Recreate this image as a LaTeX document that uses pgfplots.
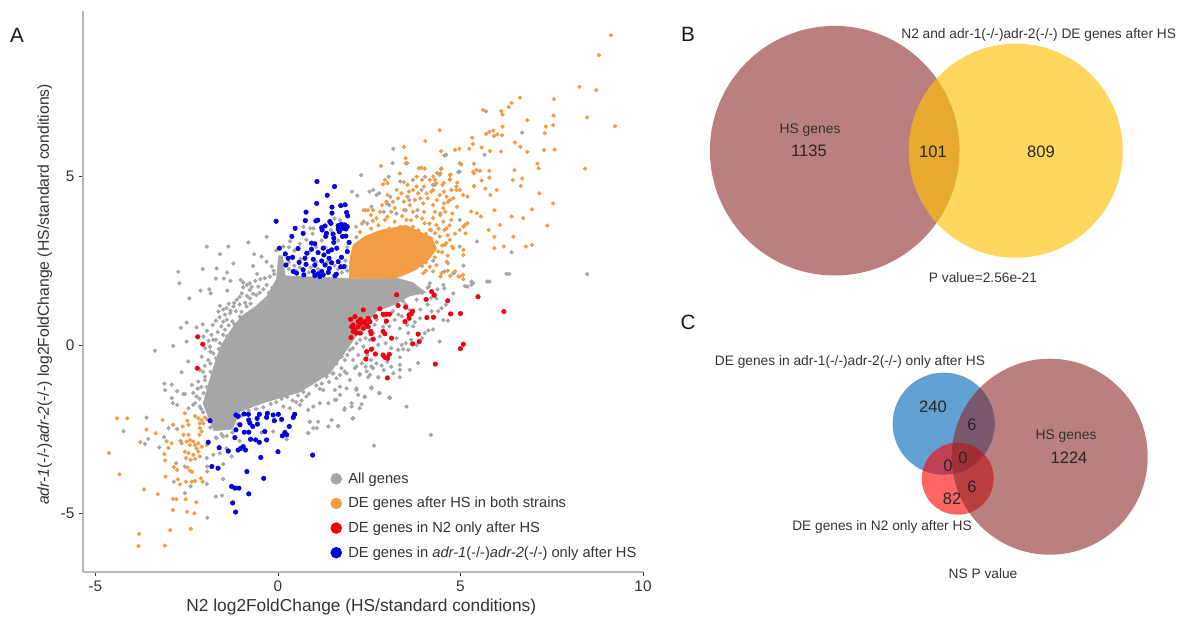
\documentclass[border=0pt]{standalone}
\usepackage{fontspec}
\usepackage{pgfplots}
\pgfplotsset{compat=1.18}
\setmainfont{Liberation Sans}
\definecolor{cgray}{HTML}{A6A6A6}
\definecolor{corange}{HTML}{F29C45}
\definecolor{cred}{HTML}{F00010}
\definecolor{cblue}{HTML}{0000E0}
\definecolor{axgray}{HTML}{B8B8B8}
\definecolor{txt}{HTML}{333333}
\definecolor{vbrown}{RGB}{139,35,35}
\definecolor{vyellow}{RGB}{255,193,7}
\definecolor{vblue}{RGB}{31,120,190}
\definecolor{vred}{RGB}{255,0,0}
\begin{document}
\begin{tikzpicture}[x=1pt,y=1pt]
\path (0,0) rectangle (885.75,463.5);
\begin{axis}[
  at={(62.25pt,34.5pt)},anchor=south west,
  width=420pt,height=420.75pt,scale only axis,
  xmin=-5.34,xmax=10,ymin=-6.74,ymax=9.91,
  axis lines=left,axis line style={-,draw=axgray,line width=0.9pt},
  xtick={-5,0,5,10},xticklabels={-5,0,5,10},
  ytick={-5,0,5},yticklabels={-5,0,5},
  tick align=outside,major tick length=3pt,
  tick style={draw=txt,line width=0.5pt},
  ticklabel style={font=\fontsize{11.5}{13}\selectfont,text=txt},
  xlabel={N2 log2FoldChange (HS/standard conditions)},
  ylabel={\textit{adr-1}(-/-)\textit{adr-2}(-/-) log2FoldChange (HS/standard conditions)},
  xlabel style={font=\fontsize{13}{15}\selectfont,text=txt,at={(axis description cs:0.497,-0.062)},anchor=center},
  ylabel style={font=\fontsize{11.8}{13}\selectfont,text=txt,at={(axis description cs:-0.068,0.495)},anchor=center},
  legend style={at={(axis cs:1.44,-3.74)},anchor=north west,draw=none,fill=none,
    font=\fontsize{11}{12}\selectfont,text=txt,row sep=7pt,inner sep=0pt,
    nodes={inner sep=1pt}},
  legend cell align=left,
  legend image post style={mark size=4.1pt},
  clip=false,
]
% dense core of the gray cloud
\addplot[fill=cgray,draw=cgray,forget plot] coordinates {(0.02,2.65)(0.12,2.65)(0.2,2.05)(1.97,1.97)(3.3,1.97)(3.7,1.85)(4.05,1.55)(3.6,1.45)(3.2,1.2)(2.7,1.0)(2.2,0.35)(1.88,-0.15)(1.42,-0.84)(0.6,-1.4)(-0.4,-1.72)(-1.04,-1.98)(-1.25,-2.5)(-1.75,-2.55)(-2.05,-1.75)(-1.9,-1.15)(-1.75,-0.6)(-1.55,0.0)(-1.25,0.5)(-1.0,0.85)(-0.6,1.15)(-0.3,1.45)(-0.04,1.95)(0.02,2.65)};
% gray
\addplot[only marks,mark=*,mark size=1.4pt,color=cgray] coordinates {
(5.70,6.93)(6.69,6.30)(4.56,5.62)(5.66,5.64)(4.94,5.13)(4.36,5.10)(4.25,4.75)
(3.16,5.82)(3.14,5.39)(3.54,5.39)(2.28,5.04)(2.03,4.55)(2.17,4.43)(2.51,4.55)(2.61,4.60)(2.77,4.50)(3.03,4.99)(3.35,4.85)(3.70,4.90)(4.03,4.99)(4.30,4.75)(4.61,5.64)(4.98,5.14)
(6.40,2.75)(6.33,2.10)(8.47,2.10)(5.79,1.88)(5.35,1.83)(5.08,2.35)(4.98,2.92)(5.45,3.07)
(2.40,4.0)(2.56,4.1)(3.08,4.40)(2.98,4.2)(3.50,4.0)(3.82,4.0)(3.93,4.6)(3.25,3.9)(2.35,3.66)(2.14,3.51)(2.45,3.6)(4.98,3.71)(4.66,2.42)(4.56,2.18)(4.82,2.13)(5.19,1.73)(4.14,1.73)(4.56,1.68)
(2.15,3.2)(2.9,3.95)(3.6,4.3)(4.45,3.9)(3.05,4.15)(2.7,4.45)(4.25,2.5)(3.95,2.35)
(-2.73,2.17)(-2.70,1.83)(-1.95,2.92)(-1.36,2.92)(-1.59,2.69)(-2.06,2.25)(-1.68,2.27)(-1.22,2.42)(-1.39,2.15)(-1.70,1.97)(-1.48,1.97)(-1.30,1.90)(-1.02,1.93)(-2.12,1.61)(-1.88,1.65)(-1.84,1.53)(-1.39,1.61)(-2.43,1.38)(-0.81,3.04)(-0.31,3.21)(-0.65,2.69)(-0.45,2.62)(-0.31,2.47)(-0.68,2.34)(-0.17,2.33)(-0.57,2.11)(-0.36,1.98)(-0.22,2.03)(-0.77,1.83)(-0.95,1.71)(-0.77,1.63)(-0.54,1.73)(-0.31,1.78)(-1.13,1.34)(-0.99,1.53)(-0.77,1.38)(-0.59,1.48)(-1.59,1.16)(-1.41,1.09)(-1.22,1.14)(-0.86,1.14)(-1.63,0.99)(-1.31,0.94)(-1.04,0.84)(-2.50,0.66)(-2.66,0.51)(-2.23,0.52)(-2.06,0.61)(-1.79,0.59)(-1.50,0.69)(-1.09,0.59)(-1.45,0.45)(-1.82,0.30)(-2.87,-0.03)(-1.86,-0.05)(-2.04,0.25)(-1.40,0.25)(-1.59,0.05)(-1.77,-0.25)
(0.97,3.46)(0.33,3.07)(0.88,3.46)(0.15,2.92)(0.78,3.12)(0.05,2.47)(0.45,2.8)(0.62,2.55)(1.65,3.1)(1.3,2.9)(1.85,2.5)(0.3,2.25)(0.5,2.2)(0.85,2.15)(1.1,2.25)(1.75,2.15)(1.9,2.2)(-0.05,2.8)
(-2.64,-0.81)(-2.46,-0.49)(-2.50,0.10)(-2.36,-1.19)(-2.55,-1.46)(-2.32,-1.43)(-2.23,-1.53)(-2.14,-1.83)(-2.27,-1.73)(-2.0,-0.94)(-2.14,-0.74)(-2.09,-0.35)(-1.91,-0.45)(-2.18,-1.09)(-1.86,-0.05)(-2.04,-1.43)(-1.77,0.15)(-3.37,-0.17)
(0.15,-1.83)(0.33,-1.88)(0.6,-1.78)(0.83,-1.93)(0.97,-1.83)(1.15,-1.73)(1.38,-1.73)(1.56,-1.63)(1.83,-1.88)(2.02,-1.83)(2.06,-2.18)(2.24,-1.88)(2.38,-1.53)(2.15,-1.34)(2.56,-1.29)(2.79,-1.43)(3.07,-1.58)(1.88,-1.29)(1.56,-1.34)(1.24,-1.34)(0.78,-1.53)(0.92,-1.14)(1.60,-0.99)(1.97,-1.04)(2.24,-0.89)(2.47,-0.96)(2.75,-0.96)(2.56,-0.64)(2.15,-0.64)(1.83,-0.79)(1.33,-0.94)(0.87,-2.28)(1.10,-2.28)(1.38,-2.42)(1.65,-2.42)(0.97,-2.47)(0.83,-2.62)(2.63,-2.99)(4.19,-2.67)
(6.26,2.11)(5.73,1.88)(5.30,1.88)(5.30,1.78)(5.12,1.75)(4.80,2.13)(4.80,1.53)(4.53,1.78)(4.37,1.65)(4.16,1.83)(4.34,1.38)(4.48,1.09)(4.60,1.19)(4.39,1.0)(4.53,0.74)(4.66,0.72)(4.21,1.0)(3.89,0.79)(4.43,0.10)(4.25,0.46)(4.12,0.43)(4.02,0.35)(3.75,0.67)(3.54,0.59)(3.57,0.35)(3.34,0.49)(3.25,0.20)(3.39,0)(3.57,-0.15)(3.43,-0.13)(3.29,-0.15)(3.34,-0.37)(3.84,-0.54)(3.34,-0.59)(3.61,-0.74)(3.34,-0.74)(3.16,-0.84)(3.34,-0.96)(2.84,-0.61)(2.61,-0.69)(2.43,-0.79)(2.75,-0.96)(2.52,-0.89)(2.24,-0.86)(2.11,-0.69)(2.56,-1.26)(2.77,-1.43)(3.05,-1.56)(3.52,-1.83)(2.38,-1.55)(2.15,-1.29)(2.2,-1.48)(2.02,-1.73)(2.29,-1.76)(1.82,-1.93)(2.04,-2.18)(1.65,-2.40)(1.47,-2.23)(1.70,-1.48)(1.60,-1.63)(1.70,-1.24)
(2.52,1.53)(2.79,1.24)(3.11,0.94)(3.20,0.74)(2.88,0.54)(2.61,0.35)(2.52,0.15)(2.79,0.25)(2.34,-0.05)(2.2,-0.3)(1.97,-0.15)(1.83,-0.45)(2.06,-0.45)(1.74,-0.69)(1.52,-0.84)(1.70,-0.89)(1.88,-0.84)(3.66,1.53)(3.43,1.29)(3.80,1.34)(3.61,1.04)
(-3.11,-1.15)(-2.91,-1.18)(-3.09,-1.34)(-2.76,-1.37)(-2.59,-1.46)(-2.91,-1.58)(-2.88,-1.73)(-2.76,-1.78)(-2.45,-1.88)(-2.32,-1.78)(-3.60,-2.16)(-4.23,-2.56)(-3.0,-2.47)(-2.76,-2.50)(-3.55,-2.79)(-3.64,-2.94)(-3.25,-3.04)(-3.12,-2.74)(-2.67,-2.85)(-2.79,-3.51)(-2.55,-3.61)(-1.94,-3.61)(-1.94,-3.76)(-1.95,-4.13)(-1.50,-3.98)(-1.50,-3.54)(-1.70,-4.50)(-1.53,-4.47)(-1.93,-5.13)(-2.39,-4.20)(-2.55,-4.40)(-2.85,-4.06)(-1.95,-3.36)(-1.77,-3.26)(-1.59,-3.22)(-1.27,-3.31)(-1.41,-3.07)(-1.68,-2.77)(-1.50,-2.72)(-0.13,-2.57)(0.24,-2.80)(0.83,-2.62)(0.88,-2.28)(1.06,-2.47)(-0.45,-2.6)(-1.05,-2.85)
(-0.95,1.85)(-0.85,1.78)(-0.72,1.72)(-0.62,1.9)(-0.48,1.95)(-0.4,1.65)(-0.25,1.55)(-0.15,1.7)(-0.1,2.1)(-0.12,2.2)(-0.5,1.55)(-0.68,1.52)(-0.85,1.45)(-1.05,1.42)(-1.2,1.25)(-1.05,1.2)(-0.9,1.25)(-0.75,1.22)(-1.35,1.22)(-1.5,1.05)(-1.3,1.02)(-1.15,1.0)(-1.0,0.98)(-1.45,0.9)(-1.6,0.82)(-1.4,0.75)(-1.25,0.7)(-1.7,0.72)(-1.55,0.55)(-1.35,0.58)(-1.2,0.62)(-1.65,0.38)(-1.5,0.3)(-1.95,0.42)(-1.7,0.15)(-1.9,0.12)(-1.62,-0.12)(-1.85,-0.2)(-2.0,-0.1)(-1.7,-0.4)(-1.85,-0.55)(-2.0,-0.62)(-1.85,-0.8)(-2.05,-0.8)(-2.0,-1.05)(-1.95,-1.25)(-2.1,-1.25)(-2.15,-1.6)(-2.1,-1.9)(-2.2,-1.3)
(-2.05,-2.0)(-1.95,-2.2)(-1.85,-2.45)(-1.7,-2.75)(-1.55,-2.65)(-1.4,-2.7)(-1.25,-2.6)(-1.1,-2.35)(-1.1,-2.15)
(-1.0,-2.1)(-0.8,-1.95)(-0.6,-1.9)(-0.4,-1.85)(-0.2,-1.75)(-0.05,-1.7)(0.1,-1.6)(0.25,-1.55)(0.4,-1.65)(0.55,-1.5)(0.7,-1.4)(0.85,-1.45)(1.05,-1.2)(1.2,-1.15)(1.4,-1.1)(1.5,-0.85)(1.15,-1.3)(0.5,-1.7)(0.65,-1.65)
(1.6,-0.55)(1.75,-0.35)(1.9,-0.3)(2.05,-0.1)(2.15,0.05)(2.25,0.15)(2.4,0.2)(2.3,0.35)(2.65,0.6)(2.7,0.75)(2.9,0.85)(2.95,0.65)(3.05,0.55)(3.15,1.0)(3.3,0.9)(3.4,0.85)(3.5,1.2)(2.45,-0.3)(2.6,-0.1)(2.75,0.0)(2.95,0.05)(3.1,-0.1)(2.55,-0.45)(2.7,-0.55)(3.0,-0.5)(3.1,-0.65)(2.9,-0.75)(2.3,-0.55)(2.4,-0.65)(3.5,0.05)(3.65,0.15)(3.8,0.0)(3.95,0.2)(3.7,0.55)(3.9,1.05)(4.1,1.2)(4.2,1.4)(3.95,1.55)(4.1,1.7)(3.85,1.6)
(0.12,2.4)(0.12,2.2)(0.3,2.45)(0.45,2.35)(0.6,2.3)(0.9,2.3)(1.05,2.45)(1.35,2.45)(1.55,2.35)(1.65,2.25)(1.85,2.35)(1.9,2.9)(0.85,2.75)(1.05,2.9)(0.3,2.9)(0.6,3.0)(1.2,3.1)(1.45,3.4)(1.7,3.7)(0.95,3.3)(0.7,3.5)(1.55,3.75)
};
\addlegendentry{\hspace*{4pt}All genes}
% orange
\addplot[only marks,mark=*,mark size=1.4pt,color=corange] coordinates {
(9.12,9.19)(8.79,8.60)(8.26,7.66)(8.72,7.56)(7.56,7.29)(6.63,7.34)(6.40,7.18)(6.32,7.06)(5.62,6.97)(6.12,6.94)(6.15,6.84)(6.83,6.67)(7.55,6.81)(8.47,6.75)(9.23,6.49)(7.34,6.48)(7.54,6.52)(7.31,6.28)(4.43,6.37)(6.15,6.48)(5.90,6.36)(5.79,6.32)(5.70,6.26)(5.92,6.20)(6.01,6.25)(6.14,6.22)(5.32,6.15)(5.34,5.96)(6.49,6.01)(6.64,5.88)(6.83,5.73)(7.29,5.78)(7.58,5.80)(6.11,5.74)(5.81,5.75)(5.58,5.86)(5.24,5.82)(4.97,5.82)(4.85,5.79)(4.47,5.75)(5.37,5.38)(5.00,5.37)(7.11,5.38)(7.14,5.24)(8.41,5.23)(6.48,5.19)(5.79,5.17)(5.53,5.17)(5.44,5.19)(5.37,5.09)(4.73,5.06)(4.71,4.92)(4.47,5.22)(4.43,5.04)(5.79,4.96)(5.58,4.88)(6.43,4.89)(6.69,4.94)(6.65,4.72)(5.37,4.72)(4.91,4.82)(4.54,4.80)(4.34,4.80)(5.68,4.64)(5.99,4.60)
(3.45,5.87)(4.04,6.05)(2.82,5.31)(3.50,5.54)(3.50,5.39)(3.93,5.26)(3.86,5.24)(4.02,5.23)(3.34,5.09)(2.93,4.90)(2.88,4.77)(3.0,4.80)(3.45,4.83)(3.80,4.99)(3.80,4.70)(4.48,5.24)(4.45,5.09)(4.16,4.90)(4.30,4.90)(4.51,4.75)(4.71,5.04)(4.71,4.90)(4.98,5.39)(5.02,5.36)(5.35,5.14)(5.37,4.70)(4.89,4.70)
(3.38,4.50)(3.59,4.55)(3.84,4.50)(4.07,4.50)(4.25,4.60)(4.43,4.45)(4.62,4.40)(4.71,4.30)(4.89,4.60)(5.07,4.45)(2.61,4.0)(2.97,4.25)(3.20,4.06)(3.61,4.15)(3.98,4.20)(4.25,4.15)(4.53,4.06)(4.66,4.25)(3.29,4.35)(2.93,3.71)(3.20,3.66)(2.70,3.76)(2.34,4.0)(2.47,4.0)(3.80,3.81)(4.02,3.61)(4.25,3.76)(4.34,3.56)(4.53,3.66)(4.62,3.46)(4.16,3.41)(3.52,3.71)(3.70,3.51)
(4.75,3.71)(4.98,3.41)(5.12,3.56)(4.43,3.22)(4.71,3.12)(4.57,2.97)(4.80,2.87)(4.25,2.97)(4.39,2.77)(4.07,2.67)(3.93,2.57)(4.16,2.32)(4.34,2.37)(4.62,2.47)(3.98,2.13)(4.25,2.18)(4.48,2.13)(4.85,2.18)(4.94,2.03)(5.07,2.08)
(5.82,4.45)(5.93,4.0)(6.40,3.81)(6.72,3.76)(6.08,3.56)(5.77,3.41)(5.93,3.21)(5.93,2.87)(6.19,2.92)(6.45,3.21)(6.79,2.92)(6.96,2.97)(7.38,3.54)(7.54,4.20)(6.96,4.02)(7.16,4.50)
(5.19,4.40)(4.98,4.60)(5.45,3.91)(5.56,3.81)(5.29,3.96)(5.08,3.51)(5.14,3.31)(5.19,3.61)(5.08,2.82)(5.08,2.67)(4.56,3.41)(4.61,3.02)(4.77,2.92)(4.30,3.31)(4.45,2.03)(4.98,2.03)(5.08,1.95)
(2.25,3.35)(2.55,3.45)(2.75,3.55)(3.05,3.45)(3.35,3.5)(3.55,3.42)(3.85,3.4)(4.05,3.3)(4.2,3.15)(4.35,3.05)(2.3,3.6)(2.6,3.68)(3.0,3.8)(3.4,3.82)(3.65,3.7)(3.95,3.75)(4.15,3.6)(4.4,3.45)(4.45,3.85)(4.7,3.55)(4.85,3.3)
(2.55,3.85)(2.8,3.95)(3.1,3.95)(3.45,4.0)(3.7,3.95)(4.0,3.95)(4.3,3.95)(4.58,3.95)(4.78,3.9)(4.9,4.1)(2.85,4.15)(3.15,4.25)(3.45,4.25)(3.75,4.3)(4.1,4.35)(4.35,4.3)(4.55,4.2)(4.8,4.35)(3.0,4.45)(3.55,4.4)(3.9,4.35)
(3.25,4.6)(3.55,4.75)(3.7,4.6)(4.0,4.7)(4.2,4.55)(4.55,4.55)(4.75,4.6)(3.95,4.9)(4.25,5.0)
(4.1,3.1)(4.2,2.85)(4.0,2.9)(3.9,2.8)(3.75,2.6)(3.6,2.4)(3.75,2.3)(3.5,2.25)(3.35,2.15)(4.05,2.45)(4.3,2.6)(4.5,2.75)(4.65,2.65)(4.5,2.95)(4.65,3.25)(4.2,3.4)(3.9,2.4)(4.05,2.2)(4.65,2.2)(4.72,2.05)(3.2,2.05)(3.1,2.03)
(-4.41,-2.18)(-4.13,-2.18)(-3.16,-2.23)(-3.60,-2.51)(-3.35,-2.62)(-3.77,-2.89)(-4.63,-3.21)(-4.34,-3.84)(-3.67,-4.29)(-3.29,-4.43)(-3.80,-5.61)(-3.82,-5.97)(-3.10,-5.96)(-2.95,-5.50)(-2.39,-5.46)(-2.88,-4.90)(-2.49,-4.95)(-2.29,-5.0)(-2.24,-4.67)(-2.53,-4.58)(-2.87,-4.57)(-2.78,-4.58)(-3.08,-3.91)(-2.74,-3.99)(-2.68,-4.14)(-2.52,-4.06)(-2.36,-4.06)(-2.27,-4.04)(-2.11,-3.96)(-2.06,-4.06)(-2.85,-3.63)(-2.76,-3.71)(-2.48,-3.64)(-2.41,-3.73)(-2.35,-3.77)(-3.09,-3.43)(-3.11,-3.24)(-3.0,-3.06)(-3.05,-2.86)(-2.87,-2.37)(-2.61,-2.42)(-2.55,-2.03)(-2.45,-2.37)(-2.48,-2.25)(-2.91,-2.92)
(-2.27,-2.11)(-2.18,-2.18)(-2.09,-2.23)(-2.0,-2.15)(-2.14,-2.33)(-2.04,-2.33)(-2.14,-2.47)(-2.09,-2.57)(-2.15,-2.67)
(-2.59,-2.67)(-2.45,-2.67)(-2.64,-2.92)(-2.5,-2.87)(-2.41,-2.82)(-2.32,-2.87)(-2.18,-2.92)(-2.27,-2.97)(-2.41,-2.97)(-2.09,-3.02)(-2.23,-3.07)(-1.95,-2.97)(-2.55,-3.17)(-2.45,-3.21)(-2.18,-3.17)(-2.14,-3.31)(-2.32,-3.26)(-2.27,-3.38)(-2.52,-3.36)(-2.39,-3.41)
};
\addlegendentry{\hspace*{4pt}DE genes after HS in both strains}
% dense core of the orange cloud
\addplot[fill=corange,draw=corange,forget plot] coordinates {(1.95,1.98)(1.97,2.57)(2.06,2.97)(2.38,3.22)(2.8,3.4)(3.5,3.55)(4.2,3.2)(4.35,2.85)(4.1,2.5)(3.8,2.25)(3.5,2.1)(3.2,1.97)(1.95,1.98)};
% red
\addplot[only marks,mark=*,mark size=1.7pt,color=cred] coordinates {
(-2.20,0.24)(-2.06,0.02)(-2.21,-0.69)
(3.25,1.49)(4.21,1.58)(4.28,1.48)(4.06,1.35)(4.65,1.31)(5.48,1.43)(6.19,0.99)(3.29,1.17)(3.50,1.12)(2.79,1.07)(2.34,1.04)(3.69,1.0)(3.59,0.89)(3.65,0.92)(4.73,0.92)(5.0,0.93)(4.08,0.81)(4.26,0.82)(3.59,0.79)(3.48,0.69)(2.88,0.91)(2.97,0.91)(3.05,0.91)(2.67,0.84)(2.11,0.84)(1.99,0.76)(2.47,0.79)(2.97,0.71)(3.84,0.32)(3.11,0.20)(2.88,0.40)(2.93,0.33)(2.61,0.17)(3.69,0.03)(3.87,0.10)(5.08,0.02)(5.0,-0.11)(2.56,-0.13)(2.43,-0.20)(2.67,-0.27)(2.88,-0.30)(3.05,-0.28)(2.93,-0.37)(3.0,-0.40)(2.41,-0.42)(4.31,-0.57)(3.0,-0.98)(2.0,0.22)(2.54,0.40)(2.55,0.33)
(2.02,0.54)(2.06,0.59)(2.11,0.45)(2.2,0.69)(2.2,0.54)(2.25,0.35)(2.29,0.64)(2.34,0.49)(2.38,0.69)(2.43,0.59)(2.06,0.40)(2.15,0.35)(2.47,0.54)(2.52,0.69)(2.26,0.76)
};
\addlegendentry{\hspace*{4pt}DE genes in N2 only after HS}
% blue
\addplot[only marks,mark=*,mark size=1.7pt,color=cblue] coordinates {
(1.07,4.85)(1.55,4.70)(1.35,4.44)(1.06,4.20)(1.72,4.135)(1.84,4.16)(1.48,4.09)(0.77,3.94)(1.48,3.91)(1.88,3.93)(1.91,3.83)(-0.05,3.67)(0.75,3.69)(1.04,3.68)(1.09,3.70)(1.42,3.66)(1.45,3.61)(0.47,3.46)(1.20,3.48)(1.29,3.53)(1.65,3.54)(1.74,3.58)(1.83,3.56)(1.90,3.51)(1.77,3.46)(1.86,3.44)(1.65,3.44)(0.69,3.31)(1.21,3.41)(1.33,3.31)(1.51,3.29)(1.68,3.36)(0.38,3.22)(1.31,3.22)(1.53,3.17)(1.77,3.22)(1.86,3.23)(0.92,3.02)(1.01,3.00)(1.53,3.04)(1.95,3.04)(0.04,2.87)(0.55,2.86)(0.92,2.84)(1.24,2.87)(1.47,2.82)(1.61,2.87)(0.20,2.70)(0.79,2.72)(1.10,2.74)(1.26,2.67)(1.38,2.77)(1.90,2.77)(0.28,2.57)(0.40,2.60)(0.74,2.57)(0.97,2.54)(1.20,2.49)(1.40,2.57)(1.74,2.60)(0.22,2.37)(0.58,2.45)(0.77,2.39)(1.01,2.37)(1.29,2.37)(1.47,2.44)(1.65,2.47)(1.81,2.32)(0.42,2.18)(0.51,2.13)(0.69,2.23)(0.71,2.08)(0.97,2.18)(1.01,2.06)(1.10,2.11)(1.20,2.18)(1.24,2.08)(1.38,2.15)(1.41,2.27)(1.56,2.05)(1.15,2.03)(1.60,2.10)(1.72,2.32)
(-1.86,-2.25)(-1.91,-2.89)(-1.61,-3.05)(-1.36,-3.15)(-1.81,-3.61)(-1.64,-3.66)(-1.15,-2.08)(-1.09,-2.12)(-0.93,-2.05)(-0.81,-2.06)(-0.57,-2.18)(-0.51,-2.06)(-0.29,-2.03)(-0.31,-2.15)(-0.13,-2.08)(0.01,-2.06)(0.10,-2.21)(0.46,-2.06)(0.42,-2.15)(-1.04,-2.37)(-0.80,-2.23)(-0.77,-2.32)(-0.69,-2.42)(-0.56,-2.35)(-1.15,-2.52)(-0.92,-2.59)(-0.80,-2.59)(-0.36,-2.57)(-0.10,-2.25)(0.31,-2.42)(-1.18,-2.75)(-0.75,-2.80)(-0.61,-2.82)(-0.51,-2.89)(-0.31,-2.82)(0.12,-2.70)(0.19,-2.60)(0.24,-2.67)(-1.02,-3.07)(-0.95,-3.02)(-0.89,-3.12)(-1.09,-3.12)(-0.47,-3.34)(0,-3.17)(0.95,-3.27)(-0.85,-3.76)(-0.39,-3.96)(-1.27,-4.20)(-1.18,-4.25)(-1.07,-4.25)(-0.80,-4.42)(-1.24,-4.69)(-1.16,-4.96)
};
\addlegendentry{\hspace*{4pt}DE genes in \textit{adr-1}(-/-)\textit{adr-2}(-/-) only after HS}
\end{axis}
% Venn diagrams, in image pixels
\begin{axis}[
  at={(0pt,0pt)},anchor=south west,
  width=885.75pt,height=463.5pt,scale only axis,
  xmin=0,xmax=1181,ymin=0,ymax=618,y dir=reverse,
  hide axis,clip=false,
]
\addplot[only marks,mark=*,mark size=93.6pt,color=vbrown,mark options={fill opacity=0.58,draw opacity=0}] coordinates {(834.7,150.7)};
\addplot[only marks,mark=*,mark size=80.3pt,color=vyellow,mark options={fill opacity=0.65,draw opacity=0}] coordinates {(1015.7,150.7)};
\addplot[only marks,mark=*,mark size=38.3pt,color=vblue,mark options={fill opacity=0.7,draw opacity=0}] coordinates {(943.7,423.7)};
\addplot[only marks,mark=*,mark size=27pt,color=vred,mark options={fill opacity=0.6,draw opacity=0}] coordinates {(957.7,478.7)};
\addplot[only marks,mark=*,mark size=73.5pt,color=vbrown,mark options={fill opacity=0.58,draw opacity=0}] coordinates {(1049.7,456.7)};
\end{axis}
% labels, in image pixels
\begin{axis}[
  at={(0pt,0pt)},anchor=south west,
  width=885.75pt,height=463.5pt,scale only axis,
  xmin=0,xmax=1181,ymin=0,ymax=618,y dir=reverse,
  hide axis,clip=false,
]
\tikzset{vl/.style={font=\fontsize{10.3}{12}\selectfont,text=txt,inner sep=0pt},
  vh/.style={font=\fontsize{10.4}{12}\selectfont,text=txt,inner sep=0pt},
  vn/.style={font=\fontsize{12.4}{14}\selectfont,text=black!85,inner sep=0pt},
  pl/.style={font=\fontsize{15.5}{18}\selectfont,text=black!90,inner sep=0pt}}
\node[pl] at (axis cs:17,35) {A};
\node[pl] at (axis cs:688,34) {B};
\node[pl] at (axis cs:688,322) {C};
\node[vl] at (axis cs:1038.7,35) {N2 and adr-1(-/-)adr-2(-/-) DE genes after HS};
\node[vh] at (axis cs:810,130) {HS genes};
\node[vn] at (axis cs:809,151) {1135};
\node[vn] at (axis cs:933,152) {101};
\node[vn] at (axis cs:1041,152) {809};
\node[vl] at (axis cs:983,278) {P value=2.56e-21};
\node[vl] at (axis cs:850,362) {DE genes in adr-1(-/-)adr-2(-/-) only after HS};
\node[vn] at (axis cs:933,407) {240};
\node[vn] at (axis cs:972,425) {6};
\node[vh] at (axis cs:1066,436) {HS genes};
\node[vn] at (axis cs:1069,458) {1224};
\node[vn] at (axis cs:963,458) {0};
\node[vn] at (axis cs:948,466) {0};
\node[vn] at (axis cs:972,487) {6};
\node[vn] at (axis cs:952,499) {82};
\node[vl] at (axis cs:882,527) {DE genes in N2 only after HS};
\node[vl] at (axis cs:983,574) {NS P value};
\end{axis}
\end{tikzpicture}
\end{document}
